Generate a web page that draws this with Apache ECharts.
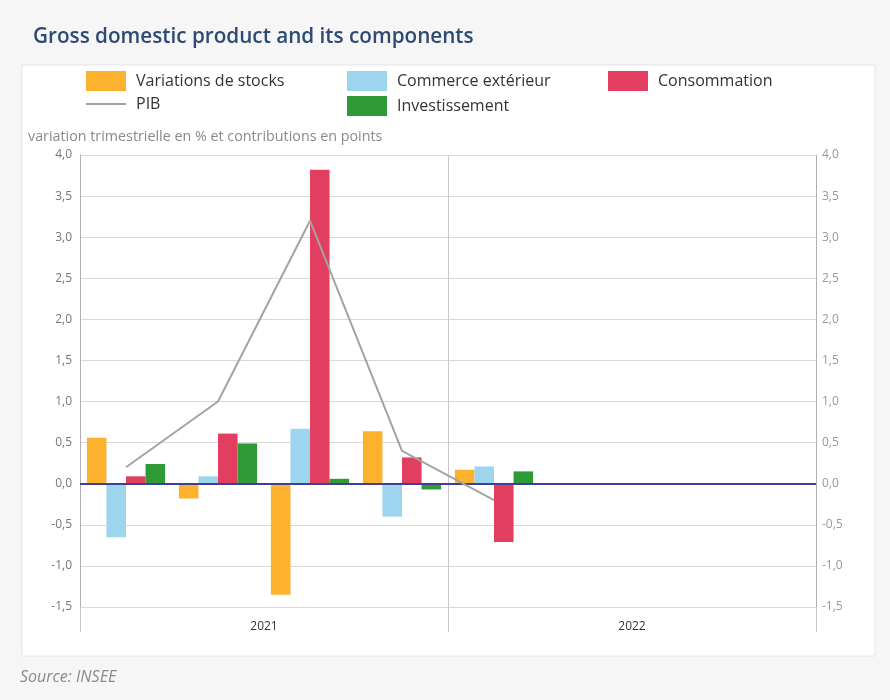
<!DOCTYPE html>
<html>
<head>
<meta charset="utf-8">
<script src="https://cdn.jsdelivr.net/npm/echarts@6/dist/echarts.min.js"></script>
<style>
  html, body { margin: 0; padding: 0; background: #f6f6f6; }
  #chart { width: 890px; height: 700px; }
</style>
</head>
<body>
<div id="chart"></div>
<script>
// ---- data ----
const quarters = ['2021 T1', '2021 T2', '2021 T3', '2021 T4', '2022 T1', '2022 T2', '2022 T3', '2022 T4'];
const years = ['2021', '2022'];
const stocks = [0.56, -0.18, -1.35, 0.64, 0.17, null, null, null];
const commerce = [-0.65, 0.09, 0.67, -0.40, 0.21, null, null, null];
const consommation = [0.09, 0.61, 3.82, 0.32, -0.71, null, null, null];
const investissement = [0.24, 0.49, 0.06, -0.07, 0.15, null, null, null];
const pib = [0.2, 1.0, 3.2, 0.4, -0.2, null, null, null];
const yTicks = { min: -1.5, max: 4.0, step: 0.5 };

const FONT = "'Open Sans', 'Noto Sans', sans-serif";
const chart = echarts.init(document.getElementById('chart'));
const fmt = v => v.toFixed(1).replace('.', ',');

const legendText = { fontSize: 16, color: '#333', fontFamily: FONT, padding: [7, 0, 0, 5] };
const legendBase = { orient: 'vertical', top: 71, padding: 0, itemWidth: 40, itemHeight: 20, itemGap: 5, textStyle: legendText, selectedMode: false };

chart.setOption({
  backgroundColor: '#f6f6f6',
  animation: false,
  graphic: [{
    type: 'rect', z: -10, silent: true,
    shape: { x: 22, y: 65, width: 853, height: 591 },
    style: { fill: '#ffffff', stroke: '#e4e4e4', lineWidth: 1 }
  }],
  title: [
    { text: 'Gross domestic product and its components', left: 33, top: 27, padding: 0,
      textStyle: { fontSize: 20.7, fontWeight: 600, color: '#2d4a72', fontFamily: FONT } },
    { text: 'variation trimestrielle en % et contributions en points', left: 28, top: 130, padding: 0,
      textStyle: { fontSize: 14.3, fontWeight: 'normal', color: '#8a8a8a', fontFamily: FONT } },
    { text: 'Source: INSEE', left: 20, top: 669, padding: 0,
      textStyle: { fontSize: 16, fontWeight: 'normal', fontStyle: 'italic', color: '#8a8a8a', fontFamily: FONT } }
  ],
  legend: [
    Object.assign({}, legendBase, { left: 85, data: [
      { name: 'Variations de stocks', icon: 'rect' },
      { name: 'PIB', itemStyle: { color: 'rgba(0,0,0,0)', borderWidth: 0, opacity: 0 } }] }),
    Object.assign({}, legendBase, { left: 347, data: [{ name: 'Commerce extérieur', icon: 'rect' }, { name: 'Investissement', icon: 'rect' }] }),
    Object.assign({}, legendBase, { left: 608, data: [{ name: 'Consommation', icon: 'rect' }] })
  ],
  grid: { left: 80, right: 74, top: 155, bottom: 93, containLabel: false },
  xAxis: [
    { type: 'category', data: quarters, position: 'bottom',
      axisLine: { show: false, onZero: false }, axisTick: { show: false }, axisLabel: { show: false }, splitLine: { show: false } },
    { type: 'category', data: years, position: 'bottom', boundaryGap: true,
      axisLine: { show: true, onZero: false, lineStyle: { color: 'rgba(0,0,0,0)' } },
      axisTick: { show: true, interval: 0, length: 25, lineStyle: { color: '#c8c8c8' } },
      axisLabel: { show: true, margin: 14, fontSize: 12, color: '#333', fontFamily: FONT },
      splitLine: { show: true, lineStyle: { color: '#c8c8c8', width: 1 } } }
  ],
  yAxis: [
    { type: 'value', position: 'left', min: yTicks.min, max: yTicks.max, interval: yTicks.step,
      axisLine: { show: true, lineStyle: { color: '#b0b0b0' } }, axisTick: { show: false },
      axisLabel: { formatter: fmt, margin: 8, fontSize: 12, color: '#777', fontFamily: FONT },
      splitLine: { show: true, lineStyle: { color: '#d9d9d9' } } },
    { type: 'value', position: 'right', min: yTicks.min, max: yTicks.max, interval: yTicks.step,
      axisLine: { show: true, lineStyle: { color: '#b0b0b0' } }, axisTick: { show: false },
      axisLabel: { formatter: fmt, margin: 6, fontSize: 12, color: '#999', fontFamily: FONT },
      splitLine: { show: false } }
  ],
  series: [
    { name: 'Variations de stocks', type: 'bar', data: stocks, barGap: '0%', barCategoryGap: '15%',
      itemStyle: { color: '#fdb22f' },
      markLine: { silent: true, symbol: 'none', label: { show: false },
        lineStyle: { color: '#3f3f95', width: 2, type: 'solid' }, data: [{ yAxis: 0 }], z: 5 } },
    { name: 'Commerce extérieur', type: 'bar', data: commerce, itemStyle: { color: '#9dd5ef' } },
    { name: 'Consommation', type: 'bar', data: consommation, itemStyle: { color: '#e23e60' } },
    { name: 'Investissement', type: 'bar', data: investissement, itemStyle: { color: '#2f9a36' } },
    { name: 'PIB', type: 'line', data: pib, symbol: 'none', showSymbol: false, z: 10,
      lineStyle: { color: '#a3a3a3', width: 2 }, itemStyle: { color: '#a3a3a3' } }
  ]
});
</script>
</body>
</html>
